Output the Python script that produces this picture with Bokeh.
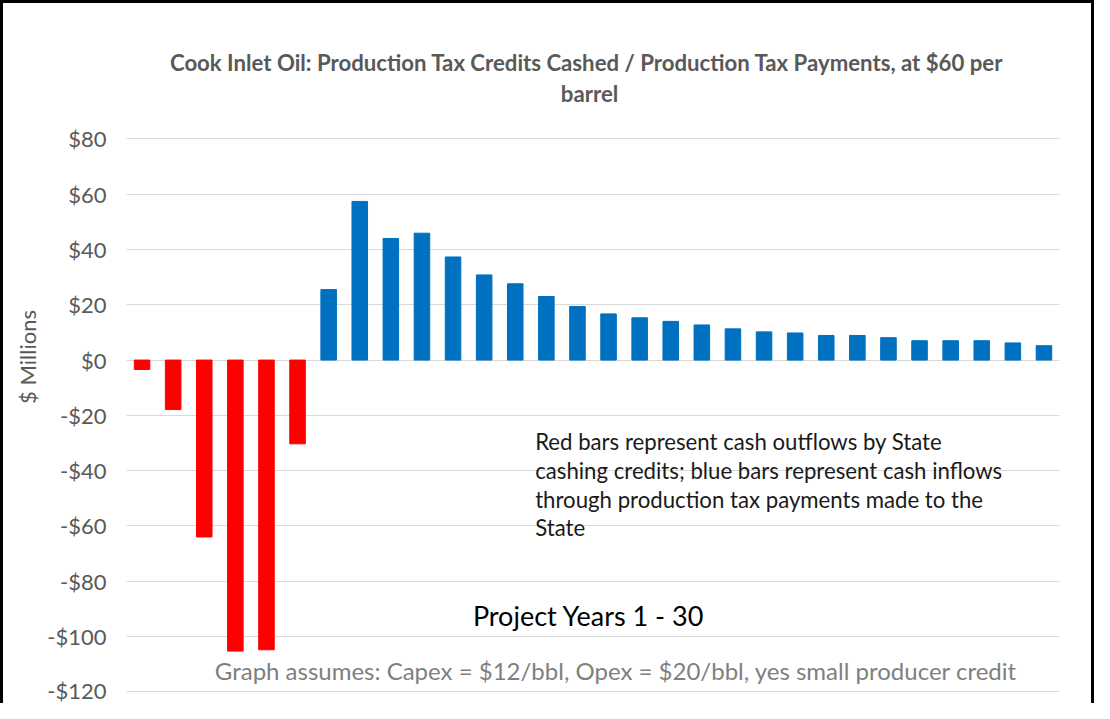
from bokeh.plotting import figure
from bokeh.layouts import column
from bokeh.models import ColumnDataSource, FixedTicker, Range1d
from bokeh.core.properties import value
from bokeh.embed import file_html
from bokeh.resources import INLINE

# ---- data ----
years = list(range(1, 31))
cash_flow = [-3.4, -17.9, -64.0, -105.3, -104.8, -30.3, 25.5, 57.4, 44.0, 45.9,
             37.3, 30.8, 27.6, 23.0, 19.4, 16.7, 15.3, 14.0, 12.7, 11.3,
             10.2, 9.8, 8.9, 8.9, 8.1, 7.0, 7.0, 7.0, 6.2, 5.2]
y_ticks = [-120, -100, -80, -60, -40, -20, 0, 20, 40, 60, 80]
y_tick_labels = ["-$120", "-$100", "-$80", "-$60", "-$40", "-$20", "$0", "$20", "$40", "$60", "$80"]
title_lines = ["Cook Inlet Oil: Production Tax Credits Cashed / Production Tax Payments,  at $60 per",
               "barrel"]
note_lines = ["Red bars represent cash outflows by State",
              "cashing credits; blue bars represent cash inflows",
              "through production tax payments made to the",
              "State"]
x_title = "Project Years 1 - 30"
assumption = "Graph assumes: Capex = $12/bbl, Opex = $20/bbl, yes small producer credit"

RED = "#ff0000"
BLUE = "#0070c0"
FONT = "Lato"

colors = [RED if v < 0 else BLUE for v in cash_flow]
src = ColumnDataSource(dict(x=years, top=cash_flow, color=colors))

p = figure(width=1085, height=697, output_backend="svg", toolbar_location=None,
           x_range=Range1d(0.5, 30.5), y_range=Range1d(-124.25, 126.47),
           min_border_left=120, min_border_right=32, min_border_top=4, min_border_bottom=0,
           background_fill_color="white", border_fill_color="white")
p.outline_line_color = None

p.vbar(x="x", top="top", bottom=0, width=0.5, color="color", source=src)

# axes
p.xaxis.visible = False
p.xgrid.visible = False
ax = p.yaxis[0]
ax.ticker = FixedTicker(ticks=y_ticks)
ax.major_label_overrides = {t: l for t, l in zip(y_ticks, y_tick_labels)}
ax.axis_line_color = None
ax.major_tick_line_color = None
ax.minor_tick_line_color = None
ax.major_tick_out = 0
ax.major_label_standoff = 20
ax.major_label_text_font = FONT
ax.major_label_text_font_size = "22px"
ax.major_label_text_color = "#595959"
ax.axis_label = "$ Millions"
ax.axis_label_text_font = FONT
ax.axis_label_text_font_size = "22px"
ax.axis_label_text_font_style = "normal"
ax.axis_label_text_color = "#595959"
ax.axis_label_standoff = 3
p.ygrid.ticker = FixedTicker(ticks=y_ticks)
p.ygrid.grid_line_color = "#d9d9d9"
p.ygrid.grid_line_width = 1

# title
p.text(x=[15.39] * 2, y=[107.7, 96.3], text=title_lines, text_align="center",
       text_baseline="middle", text_font=value(FONT), text_font_style="bold",
       text_font_size="22.2px", text_color="#595959")

# note
p.text(x=[13.64] * 4, y=[-29.4, -39.9, -50.3, -60.6], text=note_lines, text_align="left",
       text_baseline="middle", text_font=value(FONT), text_font_size="22.2px", text_color="#1a1a1a")

# x title
p.text(x=[15.36], y=[-92.3], text=[x_title], text_align="center", text_baseline="middle",
       text_font=value(FONT), text_font_size="27px", text_color="#000000")

# assumption
p.text(x=[16.24], y=[-112.2], text=[assumption], text_align="center", text_baseline="middle",
       text_font=value(FONT), text_font_size="24px", text_color="#7f7f7f")

layout = column(p, styles={"border-left": "3px solid black", "border-top": "3px solid black",
                           "border-right": "3px solid black", "padding": "3px 0 0 3px",
                           "background": "white"})

open("out.html", "w").write(file_html(layout, INLINE))
